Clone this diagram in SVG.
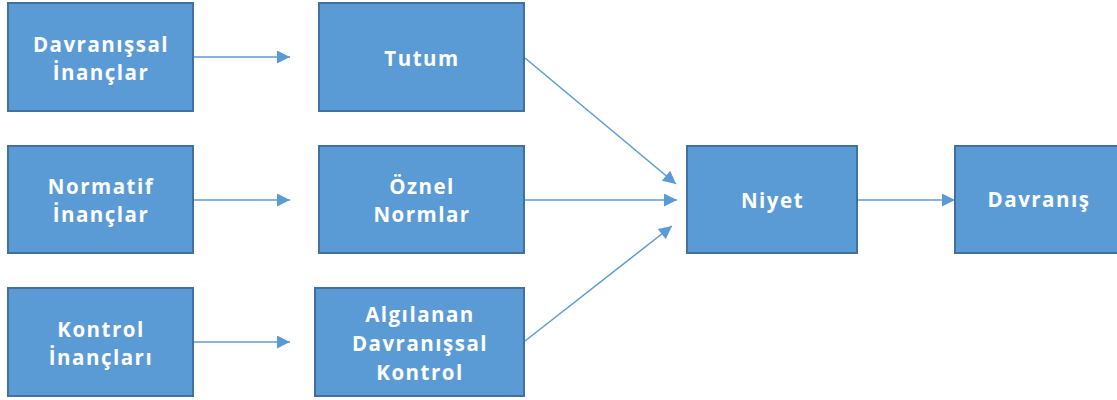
<svg xmlns="http://www.w3.org/2000/svg" width="1117" height="400" viewBox="0 0 1117 400">
  <style>
    .box { fill: #5B9BD5; stroke: #41719C; stroke-width: 2; }
    .lbl { font-family: "Open Sans", "Liberation Sans", sans-serif; font-weight: bold; font-size: 20.5px; letter-spacing: 1.5px; fill: #FFFFFF; text-anchor: middle; }
    .link { stroke: #5B9BD5; stroke-width: 1.5; fill: none; marker-end: url(#head); }
  </style>
  <defs>
    <marker id="head" viewBox="0 0 10 10" refX="10" refY="5" markerUnits="userSpaceOnUse" markerWidth="15" markerHeight="13" orient="auto">
      <path d="M0,0 L10,5 L0,10 Z" fill="#5B9BD5"/>
    </marker>
  </defs>
  <rect width="1117" height="400" fill="#FFFFFF"/>

  <g id="connectors">
    <line class="link" x1="193" y1="57" x2="290" y2="57"/>
    <line class="link" x1="193" y1="200" x2="290" y2="200"/>
    <line class="link" x1="193" y1="342" x2="290" y2="342"/>
    <line class="link" x1="525" y1="58" x2="676" y2="184"/>
    <line class="link" x1="525" y1="200" x2="677" y2="200"/>
    <line class="link" x1="525" y1="341" x2="672" y2="226"/>
    <line class="link" x1="857" y1="200" x2="955" y2="200"/>
  </g>

  <g id="davranissal-inanclar">
    <rect class="box" x="8" y="3" width="185" height="108"/>
    <text class="lbl" x="101" y="52">Davranışsal</text>
    <text class="lbl" x="101" y="80">İnançlar</text>
  </g>
  <g id="normatif-inanclar">
    <rect class="box" x="8" y="146" width="185" height="107"/>
    <text class="lbl" x="101" y="194">Normatif</text>
    <text class="lbl" x="101" y="222">İnançlar</text>
  </g>
  <g id="kontrol-inanclari">
    <rect class="box" x="8" y="288" width="185" height="108"/>
    <text class="lbl" x="101" y="337">Kontrol</text>
    <text class="lbl" x="101" y="365">İnançları</text>
  </g>

  <g id="tutum">
    <rect class="box" x="319" y="3" width="205" height="108"/>
    <text class="lbl" x="422" y="66">Tutum</text>
  </g>
  <g id="oznel-normlar">
    <rect class="box" x="319" y="146" width="205" height="107"/>
    <text class="lbl" x="422" y="194">Öznel</text>
    <text class="lbl" x="422" y="222">Normlar</text>
  </g>
  <g id="algilanan-davranissal-kontrol">
    <rect class="box" x="315" y="288" width="209" height="108"/>
    <text class="lbl" x="420" y="322">Algılanan</text>
    <text class="lbl" x="420" y="351">Davranışsal</text>
    <text class="lbl" x="420" y="380">Kontrol</text>
  </g>

  <g id="niyet">
    <rect class="box" x="687" y="146" width="170" height="107"/>
    <text class="lbl" x="772.5" y="208">Niyet</text>
  </g>
  <g id="davranis">
    <rect class="box" x="955" y="146" width="170" height="107"/>
    <text class="lbl" x="1039" y="207">Davranış</text>
  </g>
</svg>
